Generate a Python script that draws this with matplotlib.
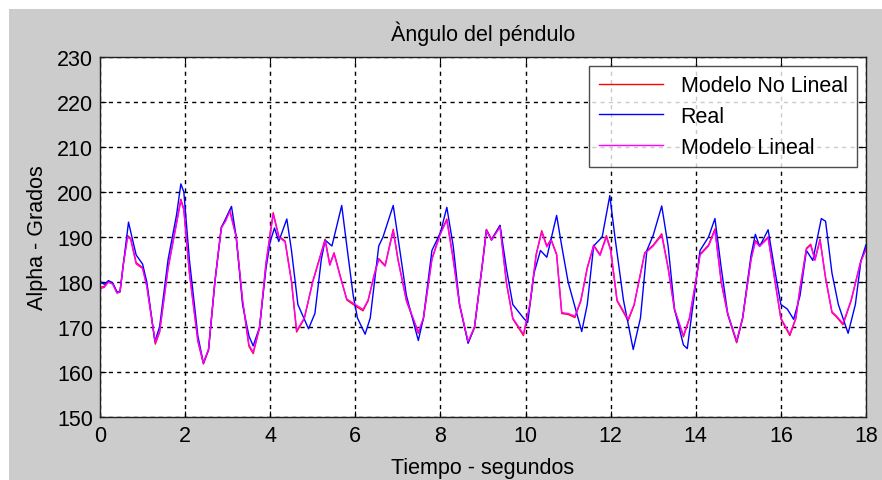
import numpy as np
import matplotlib.pyplot as plt
from matplotlib.patches import Rectangle

plt.rcParams['font.family'] = ['Liberation Sans', 'DejaVu Sans']

t_real = [0, 0, 0.1, 0.2, 0.3, 0.4, 0.47, 0.55, 0.67, 0.75, 0.85, 1.0, 1.1, 1.29, 1.4, 1.6, 1.8, 1.9, 1.97,
          2.1, 2.3, 2.43, 2.55, 2.7, 2.85, 2.95, 3.09, 3.2, 3.35, 3.5, 3.6, 3.75, 3.9, 4.0, 4.1, 4.2, 4.39,
          4.5, 4.65, 4.9, 5.05, 5.2, 5.29, 5.45, 5.68, 5.8, 5.95, 6.05, 6.23, 6.35, 6.55, 6.65, 6.89, 7.0,
          7.2, 7.48, 7.6, 7.8, 8.0, 8.15, 8.3, 8.45, 8.65, 8.8, 9.0, 9.08, 9.2, 9.4, 9.55, 9.7, 9.95, 10.05,
          10.2, 10.35, 10.5, 10.73, 10.85, 11.0, 11.32, 11.45, 11.6, 11.8, 11.98, 12.1, 12.3, 12.53, 12.7,
          12.85, 13.0, 13.2, 13.35, 13.5, 13.71, 13.8, 13.95, 14.1, 14.3, 14.45, 14.6, 14.75, 14.96, 15.1,
          15.3, 15.4, 15.5, 15.7, 15.85, 16.0, 16.15, 16.3, 16.45, 16.6, 16.75, 16.95, 17.05, 17.2, 17.35,
          17.58, 17.75, 17.88, 18.0]
a_real = [150, 180, 179.5, 180.3, 179.8, 177.8, 177.8, 184, 193.3, 190, 186, 184, 180, 166.8, 170, 185, 195,
          201.8, 200, 185, 168, 162, 165, 180, 192, 194, 196.8, 190, 175, 168, 165.8, 170, 183, 189, 192,
          189, 194, 187, 175, 169.6, 173, 185, 189.3, 188, 197, 188, 177, 172, 168.4, 172, 188, 190, 197,
          190, 177, 167, 172, 187, 191, 196.6, 188, 175, 166.4, 170, 185, 191.5, 189.3, 192.6, 183, 175,
          172, 171, 182, 187, 185.5, 194.8, 188, 180, 169, 175, 188, 190, 199.2, 190, 176, 165, 172, 187,
          190.4, 196.9, 188, 174, 166, 165.2, 176, 187, 190, 194.1, 183, 173, 166.8, 172, 186, 190.6,
          187.9, 191.6, 183, 175, 174, 171.7, 177, 187, 184.8, 194.1, 193.5, 182, 175, 168.6, 175, 184.6,
          188.3]

# Linear model
t_lin = [0, 0.1, 0.2, 0.3, 0.4, 0.47, 0.55, 0.65, 0.72, 0.85, 1.0, 1.1, 1.3, 1.4, 1.6, 1.8, 1.9, 1.97, 2.1,
         2.3, 2.43, 2.55, 2.7, 2.85, 2.95, 3.05, 3.2, 3.35, 3.5, 3.6, 3.75, 3.9, 4.07, 4.2, 4.35, 4.5, 4.62,
         4.8, 5.0, 5.29, 5.4, 5.5, 5.65, 5.8, 6.0, 6.18, 6.3, 6.45, 6.55, 6.7, 6.89, 7.0, 7.2, 7.48, 7.6,
         7.8, 8.0, 8.15, 8.3, 8.45, 8.65, 8.8, 9.0, 9.08, 9.2, 9.4, 9.55, 9.7, 9.95, 10.1, 10.25, 10.38,
         10.5, 10.6, 10.73, 10.85, 11.0, 11.16, 11.3, 11.45, 11.6, 11.75, 11.9, 12.0, 12.15, 12.41, 12.55,
         12.7, 12.8, 13.0, 13.2, 13.35, 13.5, 13.71, 13.85, 14.0, 14.1, 14.3, 14.45, 14.6, 14.75, 14.96,
         15.1, 15.3, 15.4, 15.5, 15.7, 15.85, 16.0, 16.21, 16.35, 16.45, 16.6, 16.7, 16.8, 16.92, 17.05,
         17.2, 17.3, 17.46, 17.65, 17.88, 18.0]
a_lin = [178.5, 178.8, 180, 179.5, 177.5, 177.8, 184, 190, 189.5, 184, 183, 179, 166.5, 169, 183, 193, 198.1,
         196, 182, 167, 162, 165, 180, 192, 193.5, 195.7, 190, 176, 166, 164.4, 170, 184, 195.1, 190,
         188.9, 180, 169.2, 172, 180, 189.2, 183.7, 186.3, 181, 176.2, 175, 173.9, 176, 181.7, 185, 183.5,
         191.4, 185, 176, 168.9, 172, 185, 190.7, 193.7, 185, 175, 166.8, 170, 185, 191.5, 189.3, 192.2,
         180, 172, 168.4, 175, 186, 191.1, 187.8, 189.3, 186, 173.2, 173, 172.4, 176, 183, 188, 185.9, 190,
         187, 176, 171.7, 175, 181.7, 186.3, 188, 190.4, 183, 174, 168.1, 172, 180, 186, 188, 191.5, 180,
         173, 166.8, 172, 185, 189, 187.9, 189.8, 181, 172, 168.4, 172, 178.5, 187.3, 188.2, 184.8, 189.3,
         181, 173.4, 172.5, 170.8, 176, 184.6, 187.2]

# Non-linear model (almost on top of the linear one)
t_nl = t_lin
a_nl = [178.8, 179, 180.2, 179.6, 177.6, 177.9, 184.2, 190.3, 189.7, 184.3, 183.2, 179.2, 166.2, 168.8,
        183.2, 193.3, 198.4, 196.2, 182.2, 166.8, 161.8, 164.8, 180.2, 192.2, 193.8, 196, 190.2, 175.8,
        165.7, 164.1, 169.8, 184.2, 195.4, 190.2, 189.1, 180.2, 168.9, 171.8, 180.2, 189.5, 183.9, 186.5,
        181.2, 176, 174.7, 173.6, 175.8, 181.9, 185.2, 183.7, 191.7, 185.2, 175.8, 168.6, 171.8, 185.2,
        190.9, 194, 185.2, 174.8, 166.5, 169.8, 185.2, 191.7, 189.5, 192.5, 179.8, 171.8, 168.1, 174.8,
        186.2, 191.4, 188, 189.5, 186.2, 173, 172.8, 172.1, 175.8, 183.2, 188.2, 186.1, 190.3, 187.2,
        175.8, 171.4, 174.8, 181.9, 186.5, 188.2, 190.7, 183.2, 173.8, 167.8, 171.8, 180.2, 186.2, 188.2,
        191.8, 179.8, 172.8, 166.5, 171.8, 185.2, 189.2, 188.1, 190, 180.8, 171.8, 168.1, 171.8, 178.7,
        187.5, 188.4, 185, 189.5, 180.8, 173.2, 172.3, 170.5, 175.8, 184.8, 187.4]

fs = 15.5

fig = plt.figure(figsize=(8.82, 4.81), dpi=100, facecolor='white')
fig.patches.append(Rectangle((9 / 882, 0), 1, 1 - 10 / 481, transform=fig.transFigure,
                             facecolor='#cccccc', edgecolor='none', zorder=-10))

ax = fig.add_axes([100 / 882, 1 - 418 / 481, 766 / 882, 360 / 481])
ax.set_facecolor('white')

ax.plot(t_nl, a_nl, color='red', lw=1, label='Modelo No Lineal')
ax.plot(t_real, a_real, color='blue', lw=1, label='Real')
ax.plot(t_lin, a_lin, color='magenta', lw=1, label='Modelo Lineal')

ax.set_xlim(0, 18)
ax.set_ylim(150, 230)
ax.set_xticks(np.arange(0, 19, 2))
ax.set_yticks(np.arange(150, 231, 10))
ax.tick_params(axis='both', direction='in', length=4, top=True, right=True, labelsize=fs, colors='black')
ax.tick_params(axis='x', pad=6)
ax.tick_params(axis='y', pad=5)
ax.grid(True, color='black', linestyle=(0, (3, 3)), linewidth=1)
for s in ax.spines.values():
    s.set_color('#202020')
    s.set_linewidth(1)

ax.set_title('Àngulo del péndulo', fontsize=fs, pad=12)
ax.set_xlabel('Tiempo - segundos', fontsize=fs, labelpad=8)
ax.set_ylabel('Alpha - Grados', fontsize=fs, labelpad=6)

leg = ax.legend(loc='upper right', fontsize=fs, frameon=True, fancybox=False,
                borderaxespad=0.4, handlelength=3.0, labelspacing=0.45, borderpad=0.45)
leg.get_frame().set_edgecolor('#202020')
leg.get_frame().set_linewidth(1)

fig.savefig('out.png', dpi=100)
